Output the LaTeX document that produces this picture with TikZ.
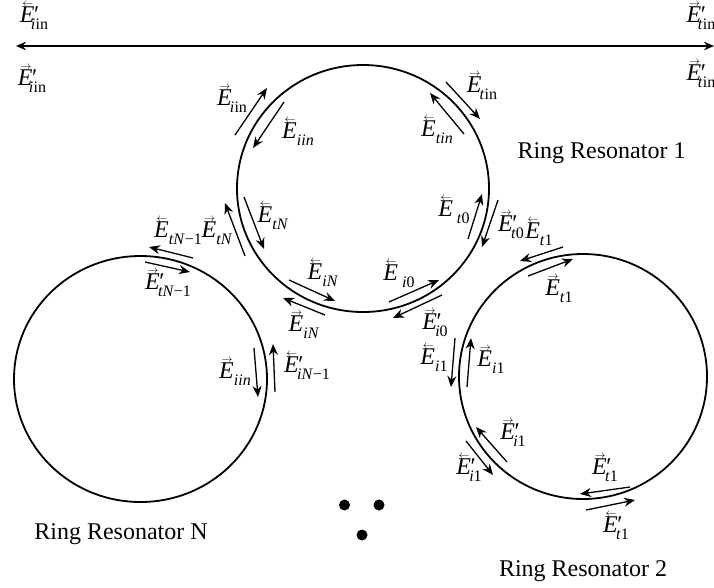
\documentclass[tikz,border=0pt]{standalone}
\usepackage{fontspec}
\setmainfont{Liberation Serif}
\usetikzlibrary{arrows.meta,shapes.geometric}
\newcounter{labc}
% #1 arrow over the E, #2 prime (or empty), #3 subscript
\newcommand\Ev[3]{\rlap{\raisebox{.65em}{\hspace{.1em}\fontsize{10.5}{10.5}\selectfont$#1$}}\textit{E}#2\raisebox{-.33em}{\fontsize{16}{16}\selectfont #3}}
\newcommand\Prm{\hspace{-.08em}\textit{\char"2032}\hspace{-.22em}}
\newcommand\Sbb[2]{\hspace{-.12em}\textit{#1}\hspace{.02em}#2}
\newcommand\lab[2]{\stepcounter{labc}\node[lbl] (lab\thelabc) at #1 {#2};}
\tikzset{
  x=1pt,y=-1pt,
  ring/.style={draw=black,line width=1.8pt,ellipse,inner sep=0pt},
  bus/.style={line width=1.8pt,{Stealth[length=10pt,width=8.5pt]}-{Stealth[length=10pt,width=8.5pt]}},
  wave/.style={line width=1.3pt,-{Stealth[length=11pt,width=9pt]}},
  lbl/.style={inner sep=0pt,anchor=base,yshift=-5pt,font=\fontsize{24}{24}\selectfont},
  title/.style={inner sep=0pt,anchor=base,font=\fontsize{24}{24}\selectfont},
  dot/.style={circle,fill=black,inner sep=0pt,minimum size=11pt}
}
\begin{document}
\begin{tikzpicture}
\useasboundingbox (0,0) rectangle (714,587);
% bus
\coordinate (busL) at (16,46); \coordinate (busR) at (714,46);
\draw[bus] (busL) -- (busR);
% rings
\node[ring,minimum width=252pt,minimum height=247pt] (ringA) at (363,188.5) {};
\node[ring,minimum width=248pt,minimum height=245pt] (ringB) at (583,376.5) {};
\node[ring,minimum width=253pt,minimum height=246pt] (ringN) at (140.5,379) {};
% arrows
\foreach \a/\b in {
 {(235,135)}/{(267,88)}, {(284,102)}/{(253,148)},
 {(446,82)}/{(480,119)}, {(464,134)}/{(430,93)},
 {(245,256)}/{(225,203)}, {(244,197)}/{(264,249)},
 {(193,258)}/{(149,247)}, {(145,262)}/{(190,272)},
 {(289,280)}/{(335,301)}, {(325,315)}/{(283,298)},
 {(254,348)}/{(258,397)}, {(275,392)}/{(273,344)},
 {(468,239)}/{(482,194)}, {(498,200)}/{(482,247)},
 {(563,247)}/{(520,261)}, {(528,276)}/{(573,259)},
 {(389,302)}/{(439,280)}, {(442,295)}/{(393,318)},
 {(455,338)}/{(451,387)}, {(467,387)}/{(471,338)},
 {(507,462)}/{(476,427)}, {(466,441)}/{(493,475)},
 {(630,487)}/{(580,494)}, {(586,510)}/{(635,500)}}
 {\draw[wave] \a -- \b;}
% labels
\lab{(34,17)}{\Ev{\leftarrow}{\Prm}{\Sbb{i}{in}}}
\lab{(32,80)}{\Ev{\rightarrow}{\Prm}{\Sbb{i}{in}}}
\lab{(232,100)}{\Ev{\rightarrow}{}{\Sbb{i}{in}}}
\lab{(298,133)}{\Ev{\leftarrow}{}{\textit{iin}}}
\lab{(701,17)}{\Ev{\rightarrow}{\Prm}{\Sbb{t}{in}}}
\lab{(701,75)}{\Ev{\rightarrow}{\Prm}{\Sbb{t}{in}}}
\lab{(482,87)}{\Ev{\rightarrow}{}{\Sbb{t}{in}}}
\lab{(437,131)}{\Ev{\leftarrow}{}{\textit{tin}}}
\lab{(273,217)}{\Ev{\leftarrow}{}{\textit{tN}}}
\lab{(217,232)}{\Ev{\rightarrow}{}{\textit{tN}}}
\lab{(178,232)}{\Ev{\leftarrow}{}{\textit{tN}−1}}
\lab{(168,284)}{\Ev{\rightarrow}{\Prm}{\textit{tN}−1}}
\lab{(323,274)}{\Ev{\leftarrow}{}{\textit{iN}}}
\lab{(304,326)}{\Ev{\rightarrow}{}{\textit{iN}}}
\lab{(235,373)}{\Ev{\rightarrow}{}{\textit{iin}}}
\lab{(307,367)}{\Ev{\leftarrow}{\Prm}{\textit{iN}−1}}
\lab{(454,211)}{\Ev{\leftarrow}{\,}{\textit{t}0}}
\lab{(511,226)}{\Ev{\rightarrow}{\Prm}{\textit{t}0}}
\lab{(539,233)}{\Ev{\leftarrow}{}{\textit{t}1}}
\lab{(559,290)}{\Ev{\rightarrow}{}{\textit{t}1}}
\lab{(399,275)}{\Ev{\leftarrow}{\,}{\textit{i}0}}
\lab{(435,324)}{\Ev{\rightarrow}{\Prm}{\textit{i}0}}
\lab{(434,359)}{\Ev{\leftarrow}{}{\textit{i}1}}
\lab{(491,361)}{\Ev{\rightarrow}{}{\textit{i}1}}
\lab{(513,434)}{\Ev{\rightarrow}{\Prm}{\textit{i}1}}
\lab{(469,469)}{\Ev{\leftarrow}{\Prm}{\textit{i}1}}
\lab{(605,469)}{\Ev{\rightarrow}{\Prm}{\textit{t}1}}
\lab{(616,527)}{\Ev{\leftarrow}{\Prm}{\textit{t}1}}
% titles
\node[title] (titleA) at (601.5,158) {Ring Resonator 1};
\node[title] (titleB) at (583,576) {Ring Resonator 2};
\node[title] (titleN) at (121,539) {Ring Resonator N};
% dots
\node[dot] (dotA) at (344.5,505) {};
\node[dot] (dotB) at (379,505) {};
\node[dot] (dotC) at (362,535) {};
\end{tikzpicture}
\end{document}
